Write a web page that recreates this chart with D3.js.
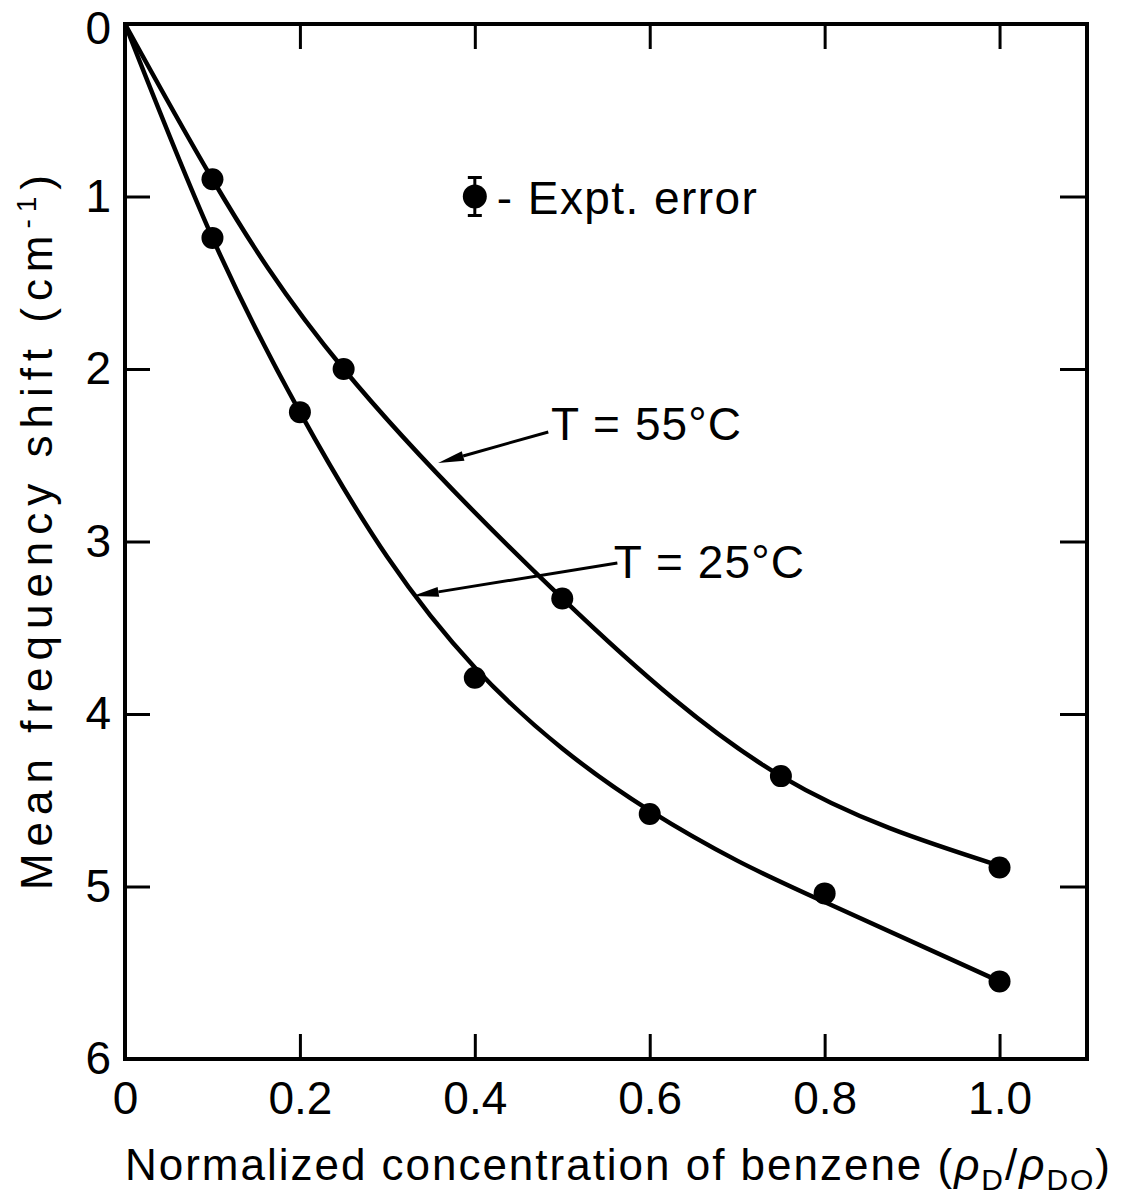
<!DOCTYPE html>
<html>
<head>
<meta charset="utf-8">
<script src="https://cdn.jsdelivr.net/npm/d3@7"></script>
<style>
  body { margin: 0; background: #fff; }
  text { font-family: "Liberation Sans", Arial, sans-serif; fill: #000; }
</style>
</head>
<body>
<script>
// measured points
var xs55 = [0.1, 0.25, 0.5, 0.75, 1.0];
var ys55 = [0.9, 2.0, 3.33, 4.36, 4.89];
var xs25 = [0.1, 0.2, 0.4, 0.6, 0.8, 1.0];
var ys25 = [1.24, 2.25, 3.79, 4.58, 5.04, 5.55];

// hand drawn fit lines
var fitX55 = [0, 0.1, 0.25, 0.5, 0.75, 1.0];
var fitY55 = [0, 0.9, 2.0, 3.33, 4.36, 4.88];
var fitX25 = [0, 0.1, 0.2, 0.3, 0.4, 0.5, 0.6, 0.7, 0.8, 1.0];
var fitY25 = [0, 1.24, 2.25, 3.09, 3.73, 4.20, 4.56, 4.85, 5.09, 5.55];

var xTicks = [0, 0.2, 0.4, 0.6, 0.8, 1.0];
var xTickLabels = ["0", "0.2", "0.4", "0.6", "0.8", "1.0"];
var yTicks = [0, 1, 2, 3, 4, 5, 6];
var yTickLabels = ["0", "1", "2", "3", "4", "5", "6"];

var labels = ["T = 55°C", "T = 25°C"];

var W = 1125, H = 1199;
var mLeft = 125, mRight = 1087, mTop = 24, mBottom = 1059;

var svg = d3.select('body').append('svg').attr('width', W).attr('height', H);

var x = d3.scaleLinear().domain([0, 1.1]).range([mLeft, mRight]);
var y = d3.scaleLinear().domain([0, 6]).range([mTop, mBottom]);

function styleAxis(g) {
  g.select('.domain').remove();
  g.selectAll('.tick line').attr('stroke', '#000').attr('stroke-width', 3);
  g.selectAll('.tick text').attr('font-size', 46).attr('fill', '#000')
    .style('font-family', '"Liberation Sans", Arial, sans-serif');
}

// axes, ticks point inward
svg.append('g').attr('transform', 'translate(0,' + mBottom + ')')
  .call(d3.axisBottom(x).tickValues(xTicks).tickSize(-25).tickPadding(22)
    .tickFormat(function(d, i) { return xTickLabels[i]; }))
  .call(styleAxis);
svg.append('g').attr('transform', 'translate(0,' + mTop + ')')
  .call(d3.axisTop(x).tickValues(xTicks.slice(1)).tickSize(-25).tickFormat(''))
  .call(styleAxis);
var yAx = svg.append('g').attr('transform', 'translate(' + mLeft + ',0)')
  .call(d3.axisLeft(y).tickValues(yTicks).tickSize(-25).tickPadding(14)
    .tickFormat(function(d, i) { return yTickLabels[i]; }))
  .call(styleAxis);
// keep the top "0" inside the page
yAx.selectAll('.tick text').filter(function(d) { return d === 0; }).attr('dy', '0.42em');
svg.append('g').attr('transform', 'translate(' + mRight + ',0)')
  .call(d3.axisRight(y).tickValues(yTicks.slice(1, 6)).tickSize(-27).tickFormat(''))
  .call(styleAxis);

svg.append('rect')
  .attr('x', mLeft).attr('y', mTop)
  .attr('width', mRight - mLeft).attr('height', mBottom - mTop)
  .attr('fill', 'none').attr('stroke', '#000').attr('stroke-width', 4);

// curves
var line = d3.line()
  .x(function(d) { return x(d[0]); })
  .y(function(d) { return y(d[1]); })
  .curve(d3.curveNatural);

svg.append('path').datum(d3.zip(fitX55, fitY55))
  .attr('d', line).attr('fill', 'none').attr('stroke', '#000').attr('stroke-width', 4.5);
svg.append('path').datum(d3.zip(fitX25, fitY25))
  .attr('d', line).attr('fill', 'none').attr('stroke', '#000').attr('stroke-width', 4.5);

svg.selectAll('circle.p55').data(d3.zip(xs55, ys55)).enter().append('circle')
  .attr('class', 'p55')
  .attr('cx', function(d) { return x(d[0]); })
  .attr('cy', function(d) { return y(d[1]); })
  .attr('r', 11).attr('fill', '#000');
svg.selectAll('circle.p25').data(d3.zip(xs25, ys25)).enter().append('circle')
  .attr('class', 'p25')
  .attr('cx', function(d) { return x(d[0]); })
  .attr('cy', function(d) { return y(d[1]); })
  .attr('r', 11).attr('fill', '#000');

// legend for expt error
var lx = x(0.4), ly = y(1.0), eh = 19;
svg.append('line').attr('x1', lx).attr('x2', lx).attr('y1', ly - eh).attr('y2', ly + eh)
  .attr('stroke', '#000').attr('stroke-width', 3);
svg.append('line').attr('x1', lx - 7).attr('x2', lx + 7).attr('y1', ly - eh).attr('y2', ly - eh)
  .attr('stroke', '#000').attr('stroke-width', 3);
svg.append('line').attr('x1', lx - 7).attr('x2', lx + 7).attr('y1', ly + eh).attr('y2', ly + eh)
  .attr('stroke', '#000').attr('stroke-width', 3);
svg.append('circle').attr('cx', lx).attr('cy', ly).attr('r', 12).attr('fill', '#000');
svg.append('text').attr('x', lx + 22).attr('y', ly + 17)
  .attr('font-size', 46).attr('textLength', 260).attr('lengthAdjust', 'spacing')
  .text('- Expt. error');

// arrow labels (data coords: tail, tip, text anchor)
var notes = [
  { text: labels[0], tail: [0.484, 2.365], tip: [0.358, 2.545], at: [0.487, 2.41] },
  { text: labels[1], tail: [0.563, 3.125], tip: [0.329, 3.316], at: [0.559, 3.21] }
];
notes.forEach(function(n) {
  var x1 = x(n.tail[0]), y1 = y(n.tail[1]), x2 = x(n.tip[0]), y2 = y(n.tip[1]);
  var a = Math.atan2(y2 - y1, x2 - x1), len = 26, w = 5;
  var bx = x2 - len * Math.cos(a), by = y2 - len * Math.sin(a);
  svg.append('line').attr('x1', x1).attr('y1', y1).attr('x2', bx).attr('y2', by)
    .attr('stroke', '#000').attr('stroke-width', 3);
  svg.append('path')
    .attr('d', 'M' + x2 + ',' + y2 +
      'L' + (bx + w * Math.sin(a)) + ',' + (by - w * Math.cos(a)) +
      'L' + (bx - w * Math.sin(a)) + ',' + (by + w * Math.cos(a)) + 'Z')
    .attr('fill', '#000');
  svg.append('text').attr('x', x(n.at[0])).attr('y', y(n.at[1]))
    .attr('font-size', 46).attr('textLength', 190).attr('lengthAdjust', 'spacing')
    .text(n.text);
});

// axis titles
var xt = svg.append('text').attr('x', 125).attr('y', 1180).attr('font-size', 44)
  .attr('textLength', 985).attr('lengthAdjust', 'spacing');
xt.append('tspan').text('Normalized  concentration of benzene (');
xt.append('tspan').attr('font-style', 'italic').text('ρ');
xt.append('tspan').attr('font-size', 30).attr('dy', 10).text('D');
xt.append('tspan').attr('dy', -10).text('/');
xt.append('tspan').attr('font-style', 'italic').text('ρ');
xt.append('tspan').attr('font-size', 30).attr('dy', 10).text('DO');
xt.append('tspan').attr('dy', -10).text(')');

var yt = svg.append('text')
  .attr('transform', 'translate(52,890) rotate(-90)')
  .attr('font-size', 44)
  .attr('textLength', 715).attr('lengthAdjust', 'spacing');
yt.append('tspan').text('Mean frequency shift (cm');
yt.append('tspan').attr('font-size', 28).attr('dy', -16).text('-1');
yt.append('tspan').attr('dy', 16).text(')');
</script>
</body>
</html>
